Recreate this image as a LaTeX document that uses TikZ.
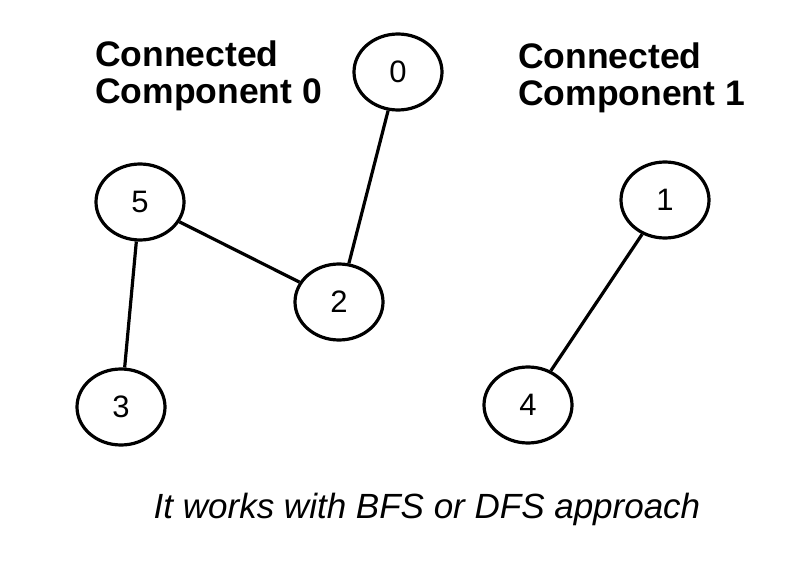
\documentclass[tikz,border=0pt]{standalone}
\usepackage{fontspec}
\setmainfont{Liberation Sans}
\usetikzlibrary{shapes.geometric}
\begin{document}
\begin{tikzpicture}[x=1pt,y=-1pt,
  vert/.style={ellipse,draw,line width=3.2pt,fill=white,minimum width=88pt,minimum height=76pt,inner sep=0pt,font=\fontsize{31}{33}\selectfont},
  edge/.style={line width=3.2pt},
  title/.style={anchor=base west,inner sep=0pt,font=\fontsize{35.5}{36}\selectfont\bfseries},
  caption/.style={anchor=base,inner sep=0pt,font=\fontsize{35}{36}\selectfont\itshape}]
\useasboundingbox[fill=white] (0,0) rectangle (804,572);
\node[title] (t0a) at (95,67) {Connected};
\node[title] (t0b) at (95,104) {Component 0};
\node[title] (t1a) at (518,69) {Connected};
\node[title] (t1b) at (518,106) {Component 1};
\node[vert] (n0) at (398,72) {0};
\node[vert] (n5) at (140,202) {5};
\node[vert] (n2) at (339,302) {2};
\node[vert] (n3) at (121,407) {3};
\node[vert] (n1) at (665,200) {1};
\node[vert] (n4) at (528,405) {4};
\draw[edge] (n0) -- (n2);
\draw[edge] (n5) -- (n2);
\draw[edge] (n5) -- (n3);
\draw[edge] (n1) -- (n4);
\node[caption] (cap) at (427,518) {It works with BFS or DFS approach};
\end{tikzpicture}
\end{document}
